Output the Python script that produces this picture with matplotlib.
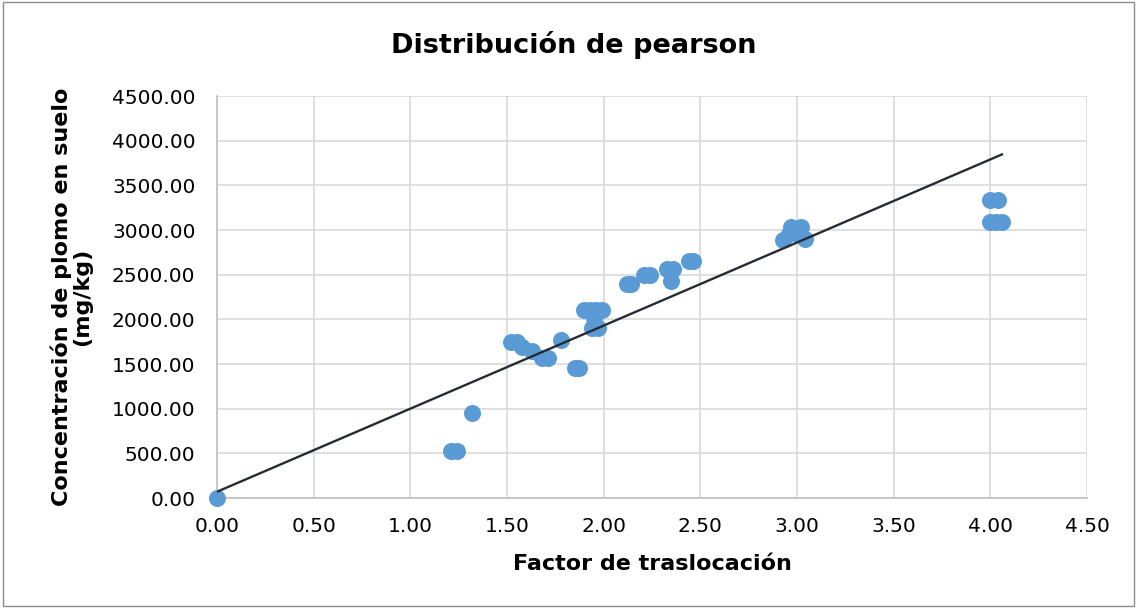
import numpy as np
import matplotlib
matplotlib.use("Agg")
import matplotlib.pyplot as plt
from matplotlib.patches import Rectangle

plt.rcParams['font.family'] = ['DejaVu Sans']

# Datos
factor = [0.00, 1.21, 1.24, 1.32, 1.52, 1.55, 1.58, 1.63, 1.68, 1.71,
          1.78, 1.85, 1.87, 1.90, 1.93, 1.96, 1.99, 1.94, 1.97, 1.95,
          2.12, 2.14, 2.21, 2.24, 2.33, 2.36, 2.35, 2.44, 2.46,
          2.93, 2.96, 2.97, 3.02, 3.04, 3.00,
          4.00, 4.04, 4.00, 4.03, 4.06]
plomo = [0, 525, 525, 955, 1750, 1750, 1685, 1645, 1565, 1565,
         1765, 1455, 1455, 2110, 2110, 2110, 2110, 1905, 1905, 2010,
         2390, 2390, 2495, 2495, 2560, 2560, 2425, 2650, 2650,
         2890, 2960, 3030, 3030, 2900, 2950,
         3340, 3340, 3085, 3085, 3085]

# linea de tendencia (tal como aparece en el grafico)
trend_slope = 930.0
trend_intercept = 70.0
trend_x = [0.0, 4.06]

x_ticks = np.arange(0, 4.51, 0.5)
y_ticks = np.arange(0, 4501, 500)

fig = plt.figure(figsize=(11.37, 6.08), dpi=100)
ax = fig.add_axes([217 / 1137, 1 - 498 / 608, 870 / 1137, 402 / 608])

# borde del area del grafico
fig.patches.append(Rectangle((0.003, 0.004), 0.994, 0.992, transform=fig.transFigure,
                             fill=False, edgecolor='#8c8c8c', linewidth=1.0))

ax.scatter(factor, plomo, s=150, color='#5B9BD5', zorder=3, linewidths=0, clip_on=False)

xt = np.array(trend_x)
ax.plot(xt, trend_slope * xt + trend_intercept, color='#252a33', linewidth=1.7, zorder=4)

ax.set_xlim(0, 4.5)
ax.set_ylim(0, 4500)
ax.set_xticks(x_ticks)
ax.set_yticks(y_ticks)
ax.set_xticklabels([f"{v:.2f}" for v in x_ticks])
ax.set_yticklabels([f"{v:.2f}" for v in y_ticks])
ax.tick_params(length=0, labelsize=14.5)
ax.tick_params(axis='x', pad=13.5)
ax.tick_params(axis='y', pad=15.5)
ax.grid(True, color='#d9d9d9', linewidth=1.2)
ax.set_axisbelow(True)
for s in ['top', 'right']:
    ax.spines[s].set_visible(False)
for s in ['left', 'bottom']:
    ax.spines[s].set_color('#bfbfbf')
    ax.spines[s].set_linewidth(1.2)

ax.set_xlabel("Factor de traslocación", fontsize=16, fontweight='bold', labelpad=13)
ax.set_ylabel("Concentración de plomo en suelo\n(mg/kg)", fontsize=16, fontweight='bold',
              labelpad=14, linespacing=1.0)
fig.text(574 / 1137, 1 - 45 / 608, "Distribución de pearson", fontsize=19.5, fontweight='bold',
         ha='center', va='center')

fig.savefig("out.png", dpi=100)
